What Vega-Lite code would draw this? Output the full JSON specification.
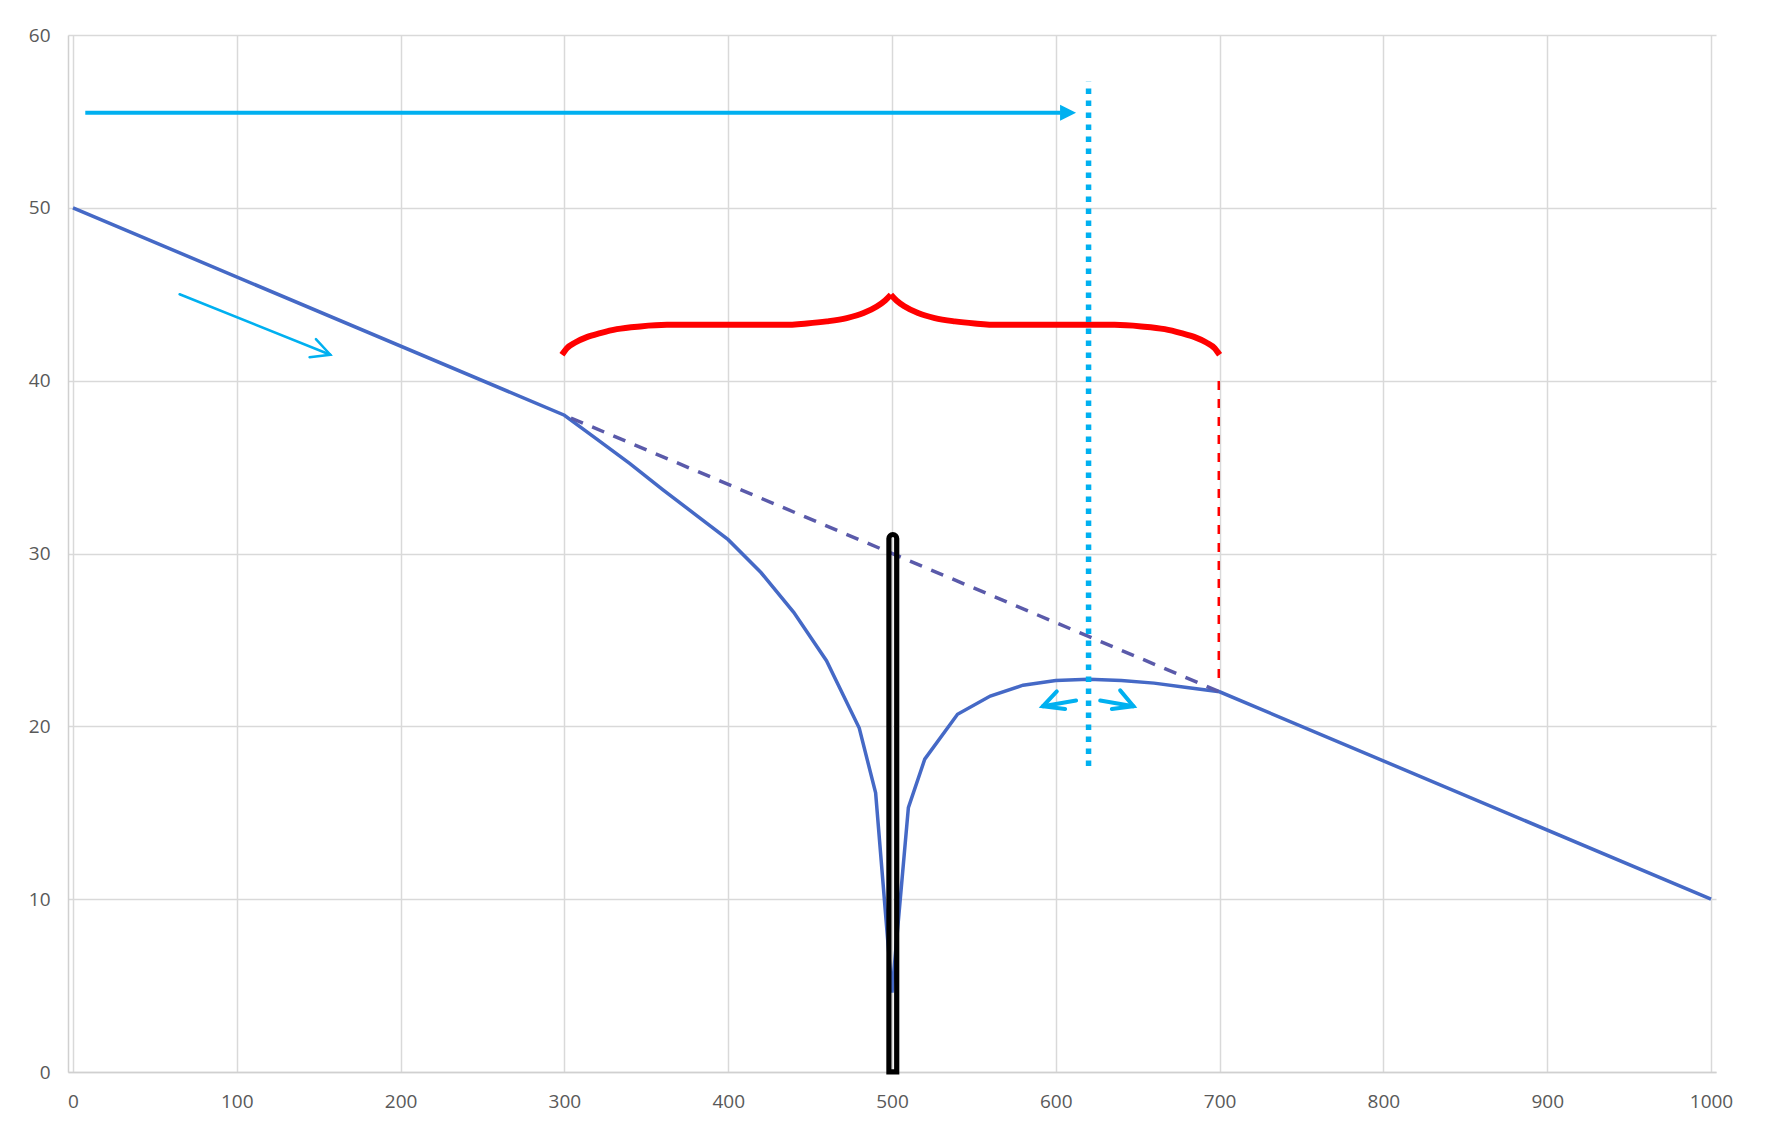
{
  "$schema": "https://vega.github.io/schema/vega-lite/v6.json",
  "width": 1648,
  "height": 1037,
  "autosize": {"type": "none"},
  "padding": {"left": 68, "top": 35, "right": 49, "bottom": 62},
  "background": "white",
  "config": {
    "view": {"stroke": null},
    "axis": {
      "grid": true,
      "gridColor": "#D9D9D9",
      "gridWidth": 1.5,
      "domainColor": "#D0D0D0",
      "domainWidth": 1.5,
      "ticks": false,
      "labelFont": "Open Sans",
      "labelFontSize": 19,
      "labelColor": "#595959",
      "title": null
    }
  },
  "datasets": {
    "curve": [
      {"x": 0, "y": 50}, {"x": 300, "y": 38}, {"x": 320, "y": 36.6}, {"x": 340, "y": 35.2},
      {"x": 360, "y": 33.7}, {"x": 380, "y": 32.25}, {"x": 400, "y": 30.8}, {"x": 420, "y": 28.9},
      {"x": 440, "y": 26.6}, {"x": 460, "y": 23.8}, {"x": 480, "y": 19.9}, {"x": 490, "y": 16.15},
      {"x": 500, "y": 4.6}, {"x": 510, "y": 15.3}, {"x": 520, "y": 18.1}, {"x": 540, "y": 20.7},
      {"x": 560, "y": 21.75}, {"x": 580, "y": 22.38}, {"x": 600, "y": 22.65}, {"x": 620, "y": 22.72},
      {"x": 640, "y": 22.65}, {"x": 660, "y": 22.5}, {"x": 680, "y": 22.25}, {"x": 700, "y": 22},
      {"x": 1000, "y": 10}
    ],
    "trend": [{"x": 304, "y": 37.84}, {"x": 700, "y": 22}],
    "bar": [{"x": 500.5, "y": 31.1}],
    "brace": [
      {"x": 298.5, "y": 41.5, "part": "left"}, {"x": 301.5, "y": 41.88, "part": "left"},
      {"x": 306.6, "y": 42.21, "part": "left"}, {"x": 313.7, "y": 42.52, "part": "left"},
      {"x": 321.9, "y": 42.75, "part": "left"}, {"x": 332.0, "y": 42.98, "part": "left"},
      {"x": 346.3, "y": 43.14, "part": "left"}, {"x": 362.6, "y": 43.23, "part": "left"},
      {"x": 433.7, "y": 43.23, "part": "left"}, {"x": 448.0, "y": 43.31, "part": "left"},
      {"x": 460.2, "y": 43.43, "part": "left"}, {"x": 472.4, "y": 43.62, "part": "left"},
      {"x": 482.6, "y": 43.91, "part": "left"}, {"x": 490.7, "y": 44.29, "part": "left"},
      {"x": 495.8, "y": 44.64, "part": "left"}, {"x": 499.3, "y": 44.97, "part": "left"},
      {"x": 499.3, "y": 44.97, "part": "right"}, {"x": 502.7, "y": 44.64, "part": "right"},
      {"x": 507.8, "y": 44.29, "part": "right"}, {"x": 515.9, "y": 43.91, "part": "right"},
      {"x": 526.1, "y": 43.62, "part": "right"}, {"x": 538.3, "y": 43.43, "part": "right"},
      {"x": 550.5, "y": 43.31, "part": "right"}, {"x": 564.8, "y": 43.23, "part": "right"},
      {"x": 635.9, "y": 43.23, "part": "right"}, {"x": 652.2, "y": 43.14, "part": "right"},
      {"x": 666.5, "y": 42.98, "part": "right"}, {"x": 676.6, "y": 42.75, "part": "right"},
      {"x": 684.8, "y": 42.52, "part": "right"}, {"x": 691.9, "y": 42.21, "part": "right"},
      {"x": 697.0, "y": 41.88, "part": "right"}, {"x": 700.0, "y": 41.5, "part": "right"}
    ],
    "redline": [{"x": 699.5, "y": 22.8, "y2": 40.5}],
    "dotted": [{"x": 620, "y": 17.7, "y2": 57.3}],
    "topArrow": [{"x": 7.5, "x2": 603, "y": 55.5}],
    "topHead": [{"x": 607.5, "y": 55.5}],
    "smallArrow": [
      {"x": 65.1, "y": 45.0, "g": "shaft", "o": 1}, {"x": 157.1, "y": 41.5, "g": "shaft", "o": 2},
      {"x": 148.3, "y": 42.4, "g": "head", "o": 1}, {"x": 157.1, "y": 41.5, "g": "head", "o": 2},
      {"x": 144.4, "y": 41.36, "g": "head", "o": 3}
    ],
    "peakArrows": [
      {"x": 612.4, "y": 21.49, "g": "ls", "o": 1}, {"x": 592.1, "y": 21.16, "g": "ls", "o": 2},
      {"x": 600.6, "y": 22.02, "g": "lh", "o": 1}, {"x": 592.1, "y": 21.16, "g": "lh", "o": 2},
      {"x": 605.7, "y": 21.0, "g": "lh", "o": 3},
      {"x": 627.1, "y": 21.49, "g": "rs", "o": 1}, {"x": 647.4, "y": 21.16, "g": "rs", "o": 2},
      {"x": 639.3, "y": 22.08, "g": "rh", "o": 1}, {"x": 647.4, "y": 21.16, "g": "rh", "o": 2},
      {"x": 634.2, "y": 21.0, "g": "rh", "o": 3}
    ]
  },
  "layer": [
    {
      "data": {"name": "curve"},
      "mark": {"type": "line", "color": "#4569C6", "strokeWidth": 3.5},
      "encoding": {
        "x": {"field": "x", "type": "quantitative", "scale": {"domain": [0, 1000], "nice": false},
              "axis": {"values": [0,100,200,300,400,500,600,700,800,900,1000], "format": "d", "labelPadding": 20, "labelFlush": false}},
        "y": {"field": "y", "type": "quantitative", "scale": {"domain": [0, 60], "nice": false},
              "axis": {"values": [0,10,20,30,40,50,60], "format": "d", "labelPadding": 18, "labelFlush": false}}
      }
    },
    {
      "data": {"name": "trend"},
      "mark": {"type": "line", "color": "#5A5AAA", "strokeWidth": 3.5, "strokeDash": [13, 10]},
      "encoding": {
        "x": {"field": "x", "type": "quantitative"},
        "y": {"field": "y", "type": "quantitative"}
      }
    },
    {
      "data": {"name": "bar"},
      "mark": {"type": "bar", "width": 8, "fill": "white", "fillOpacity": 0, "stroke": "black", "strokeWidth": 5,
               "cornerRadiusTopLeft": 4, "cornerRadiusTopRight": 4},
      "encoding": {
        "x": {"field": "x", "type": "quantitative"},
        "y": {"field": "y", "type": "quantitative"}
      }
    },
    {
      "data": {"name": "brace"},
      "mark": {"type": "line", "color": "#FF0000", "strokeWidth": 6, "interpolate": "monotone", "strokeCap": "butt", "strokeJoin": "round"},
      "encoding": {
        "x": {"field": "x", "type": "quantitative"},
        "y": {"field": "y", "type": "quantitative"},
        "detail": {"field": "part"}
      }
    },
    {
      "data": {"name": "redline"},
      "mark": {"type": "rule", "color": "#FF0000", "strokeWidth": 2.5, "strokeDash": [9, 9]},
      "encoding": {
        "x": {"field": "x", "type": "quantitative"},
        "y": {"field": "y", "type": "quantitative"},
        "y2": {"field": "y2"}
      }
    },
    {
      "data": {"name": "dotted"},
      "mark": {"type": "rule", "color": "#00B0F0", "strokeWidth": 5.5, "strokeDash": [5.5, 6.5]},
      "encoding": {
        "x": {"field": "x", "type": "quantitative"},
        "y": {"field": "y", "type": "quantitative"},
        "y2": {"field": "y2"}
      }
    },
    {
      "data": {"name": "topArrow"},
      "mark": {"type": "rule", "color": "#00B0F0", "strokeWidth": 4},
      "encoding": {
        "x": {"field": "x", "type": "quantitative"},
        "x2": {"field": "x2"},
        "y": {"field": "y", "type": "quantitative"}
      }
    },
    {
      "data": {"name": "topHead"},
      "mark": {"type": "point", "shape": "M-1,-1L1,0L-1,1Z", "size": 256, "filled": true, "color": "#00B0F0", "opacity": 1},
      "encoding": {
        "x": {"field": "x", "type": "quantitative"},
        "y": {"field": "y", "type": "quantitative"}
      }
    },
    {
      "data": {"name": "smallArrow"},
      "mark": {"type": "line", "color": "#00B0F0", "strokeWidth": 2.5, "strokeCap": "round", "strokeJoin": "miter"},
      "encoding": {
        "x": {"field": "x", "type": "quantitative"},
        "y": {"field": "y", "type": "quantitative"},
        "detail": {"field": "g"},
        "order": {"field": "o"}
      }
    },
    {
      "data": {"name": "peakArrows"},
      "mark": {"type": "line", "color": "#00B0F0", "strokeWidth": 4, "strokeCap": "round", "strokeJoin": "miter"},
      "encoding": {
        "x": {"field": "x", "type": "quantitative"},
        "y": {"field": "y", "type": "quantitative"},
        "detail": {"field": "g"},
        "order": {"field": "o"}
      }
    }
  ]
}
